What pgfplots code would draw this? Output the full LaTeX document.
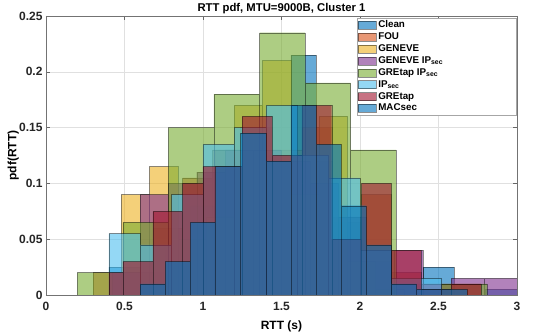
\documentclass[border=0pt]{standalone}
\usepackage{fontspec}
\setmainfont{Liberation Sans}
\usepackage{pgfplots}
\pgfplotsset{compat=1.18}
\definecolor{cClean}{rgb}{0,0.447,0.741}
\definecolor{cFOU}{rgb}{0.85,0.325,0.098}
\definecolor{cGENEVE}{rgb}{0.929,0.694,0.125}
\definecolor{cGENIP}{rgb}{0.494,0.184,0.556}
\definecolor{cGREIP}{rgb}{0.466,0.674,0.188}
\definecolor{cIPsec}{rgb}{0.301,0.745,0.933}
\definecolor{cGREtap}{rgb}{0.635,0.078,0.184}
\definecolor{cMACsec}{rgb}{0,0.447,0.741}
\pgfplotsset{
  hbar/.style={ybar interval, fill=#1, fill opacity=0.6, draw=black, draw opacity=0.45, line width=0.4pt, mark=none,
    legend image code/.code={\draw[##1] (0pt,-4pt) rectangle (18pt,4pt);}},
}
\begin{document}
\begin{tikzpicture}
\useasboundingbox (-46pt,-40pt) rectangle (504pt,295pt);
\begin{axis}[
  at={(0,0)}, anchor=south west,
  scale only axis, width=471pt, height=279pt,
  xmin=0, xmax=3, ymin=0, ymax=0.25,
  xtick={0,0.5,1,1.5,2,2.5,3}, xticklabels={0,0.5,1,1.5,2,2.5,3},
  ytick={0,0.05,0.1,0.15,0.2,0.25}, yticklabels={0,0.05,0.1,0.15,0.2,0.25},
  scaled ticks=false,
  tick label style={font=\fontsize{12}{14}\selectfont\bfseries, text=black!85},
  xticklabel style={yshift=-4pt},
  grid=major, major grid style={black!12, line width=0.4pt},
  axis line style={black!55, line width=0.5pt},
  tick style={black!60, line width=0.5pt},
  major tick length=4pt,
  tick align=inside,
  title={RTT pdf, MTU=9000B, Cluster 1},
  every axis title/.style={at={(0.5,1)}, anchor=base, yshift=4pt, font=\fontsize{11.3}{13}\selectfont\bfseries},
  xlabel={RTT (s)}, ylabel={pdf(RTT)},
  label style={font=\fontsize{12}{14}\selectfont\bfseries},
  xlabel style={at={(axis description cs:0.5,-0.123)}, anchor=base},
  ylabel style={at={(axis description cs:-0.063,0.5)}, anchor=base},
  legend cell align=left,
  legend style={at={(1,1)}, anchor=north east, xshift=-0.5pt, yshift=-2pt, draw=black!35, fill=white,
    font=\fontsize{9.8}{11}\selectfont\bfseries, row sep=0pt, inner sep=1pt,
    cells={anchor=west, inner ysep=1pt, inner xsep=2pt, text height=7.4pt, text depth=2.5pt},
    nodes={inner ysep=1pt, inner xsep=2pt, text height=7.4pt, text depth=2.5pt}},
  legend columns=1,
]
% Clean
\addplot[hbar=cClean] coordinates {(0.40,0.025) (0.60,0.02) (0.76,0.04) (0.92,0.08) (1.08,0.13) (1.24,0.15) (1.40,0.125) (1.56,0.215) (1.72,0.12) (1.82,0.065) (2.00,0.03) (2.20,0.01) (2.40,0.025) (2.60,0.0) (2.80,0.005) (3.00,0)};
\addlegendentry{\makebox[135pt][l]{Clean}}
% FOU
\addplot[hbar=cFOU] coordinates {(0.30,0.02) (0.49,0.02) (0.68,0.06) (0.87,0.105) (1.06,0.13) (1.25,0.15) (1.44,0.13) (1.63,0.15) (1.82,0.07) (2.01,0.09) (2.20,0.02) (2.39,0.01) (2.58,0.01) (2.77,0)};
\addlegendentry{FOU}
% GENEVE
\addplot[hbar=cGENEVE] coordinates {(0.48,0.09) (0.66,0.115) (0.84,0.05) (1.02,0.07) (1.20,0.17) (1.38,0.21) (1.56,0.09) (1.74,0.16) (1.92,0.03) (2.10,0.005) (2.28,0)};
\addlegendentry{GENEVE}
% GENEVE IPsec
\addplot[hbar=cGENIP] coordinates {(0.42,0.02) (0.60,0.09) (0.78,0.10) (0.96,0.11) (1.14,0.13) (1.32,0.13) (1.50,0.12) (1.68,0.10) (1.86,0.07) (2.04,0.04) (2.22,0.04) (2.40,0.01) (2.58,0.015) (2.79,0.015) (3.00,0)};
\addlegendentry{GENEVE IP\textsubscript{sec}}
% GREtap IPsec
\addplot[hbar=cGREIP] coordinates {(0.20,0.02) (0.49,0.065) (0.78,0.15) (1.07,0.18) (1.36,0.235) (1.65,0.19) (1.94,0.13) (2.23,0.0) (2.52,0.01) (2.81,0)};
\addlegendentry{GREtap IP\textsubscript{sec}}
% IPsec
\addplot[hbar=cIPsec] coordinates {(0.40,0.055) (0.60,0.045) (0.80,0.09) (1.00,0.135) (1.20,0.15) (1.40,0.17) (1.60,0.125) (1.80,0.105) (2.00,0.04) (2.20,0.015) (2.52,0)};
\addlegendentry{IP\textsubscript{sec}}
% GREtap
\addplot[hbar=cGREtap] coordinates {(0.40,0.02) (0.49,0.03) (0.68,0.075) (0.87,0.10) (1.00,0.115) (1.25,0.16) (1.44,0.125) (1.63,0.17) (1.82,0.05) (2.01,0.10) (2.20,0.04) (2.39,0.005) (2.58,0.01) (2.77,0)};
\addlegendentry{GREtap}
% MACsec
\addplot[hbar=cMACsec] coordinates {(0.60,0.01) (0.76,0.03) (0.92,0.065) (1.08,0.115) (1.24,0.145) (1.40,0.12) (1.56,0.17) (1.72,0.135) (1.88,0.08) (2.04,0.045) (2.20,0.01) (2.36,0.005) (2.52,0.005) (2.68,0)};
\addlegendentry{MACsec}
\end{axis}
\end{tikzpicture}
\end{document}
